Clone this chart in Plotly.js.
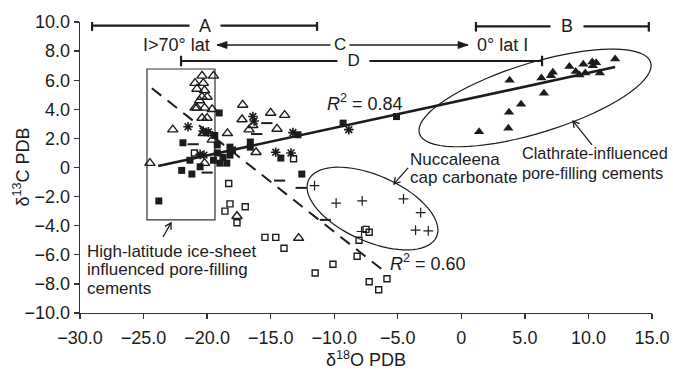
<!DOCTYPE html>
<html>
<head>
<meta charset="utf-8">
<script src="https://cdn.plot.ly/plotly-3.0.1.min.js"></script>
<style>html,body{margin:0;padding:0;background:#fff;}#chart{width:673px;height:372px;}</style>
</head>
<body>
<div id="chart"></div>
<script>
// ---------- DATA ----------
// Open triangles
const openTriX = [-20.4,-19.5,-20.95,-20.3,-20.8,-20.2,-20.4,-20.0,-20.6,-20.95,-20.8,-20.2,-19.6,-20.4,-20.0,-22.7,-20.3,-19.9,-19.6,-18.4,-24.5,-20.2,-17.2,-17.25,-15.0,-13.9,-16.7,-14.5,-16.4,-16.15,-17.65,-12.8];
const openTriY = [6.3,6.3,5.8,5.8,5.4,5.3,4.85,4.85,4.6,4.1,4.1,4.1,4.0,3.4,3.4,2.6,2.35,2.35,1.9,2.35,0.3,0.3,4.3,3.3,3.75,3.6,2.6,2.65,2.9,1.05,-3.35,-4.85];
// Filled squares
const fillSqX = [-19.05,-21.9,-21.35,-22.0,-21.2,-20.55,-19.2,-18.75,-18.2,-18.2,-19.2,-19.5,-19.0,-18.45,-16.6,-16.6,-14.2,-12.85,-12.55,-23.8,-9.3,-5.1,-19.4,-18.0];
const fillSqY = [3.75,1.7,0.5,-0.2,-0.45,0.05,1.55,0.7,1.4,0.85,1.0,0.5,0.3,0.3,1.75,1.4,0.65,2.25,-0.45,-2.3,3.05,3.5,2.2,1.2];
// Asterisks
const asterX = [-21.5,-16.4,-16.3,-20.3,-19.9,-20.55,-20.25,-14.6,-13.4,-13.25,-8.85];
const asterY = [2.8,3.5,3.2,2.5,2.45,0.9,0.85,1.05,1.0,2.4,2.6];
// Dashes
const dashX = [-21.1,-20.0,-15.3,-16.1,-14.3,-12.6,-10.7];
const dashY = [1.6,-0.35,3.05,2.3,-0.9,-1.4,-3.6];
// Open squares
const openSqX = [-21.0,-18.3,-18.2,-18.6,-17.0,-17.65,-15.45,-14.6,-13.95,-11.5,-10.1,-7.5,-7.25,-8.05,-8.2,-7.25,-5.85,-6.5,-13.2];
const openSqY = [1.0,-1.1,-2.5,-3.0,-2.7,-3.8,-4.8,-4.8,-5.55,-7.25,-6.65,-4.25,-4.45,-5.0,-6.1,-7.85,-7.65,-8.4,0.6];
// Plus (Nuccaleena cap carbonate)
const plusX = [-11.55,-9.85,-7.8,-4.55,-3.2,-3.6,-2.6,-7.85];
const plusY = [-1.25,-2.45,-2.3,-2.15,-3.1,-4.3,-4.35,-4.4];
// Filled triangles (clathrate)
const fillTriX = [12.1,8.5,9.6,10.3,10.6,10.35,9.75,10.9,9.3,7.2,7.05,6.3,3.8,6.5,4.7,3.75,3.7,1.4,9.0];
const fillTriY = [7.45,6.95,7.1,7.25,7.2,7.0,6.5,6.5,6.35,6.55,6.3,6.15,6.0,5.1,4.35,3.8,2.7,2.45,6.6];
// Regression lines (end points)
const fitSolidX = [-23.85, 12.1];
const fitSolidY = [0.1, 6.9];
const fitDashX = [-24.35, -6.25];
const fitDashY = [5.45, -7.0];
// Tick labels
const xTickVals = [-30,-25,-20,-15,-10,-5,0,5,10,15];
const xTickText = ["−30.0","−25.0","−20.0","−15.0","−10.0","−5.0","0","5.0","10.0","15.0"];
const yTickVals = [10,8,6,4,2,0,-2,-4,-6,-8,-10];
const yTickText = ["10.0","8.0","6.0","4.0","2.0","0","−2.0","−4.0","−6.0","−8.0","−10.0"];

// ---------- LAYOUT CONSTANTS ----------
const W = 673, H = 372;
const M = {l:80, r:21, t:22, b:59};
const XR = [-30, 15], YR = [-10, 10];
const pxX = (W - M.l - M.r) / (XR[1]-XR[0]);
const pxY = (H - M.t - M.b) / (YR[1]-YR[0]);
const INK = '#1c1c1c';
const FONT = 'Liberation Sans, Arial, Helvetica, sans-serif';

function toPx(x, y) { return [(x - XR[0]) * pxX, (y - YR[0]) * pxY]; }
function toData(px, py) { return [px / pxX + XR[0], py / pxY + YR[0]]; }

function ellipsePath(cx, cy, aPx, bPx, angDeg) {
  const ph = angDeg*Math.PI/180;
  let d = '';
  for (let i=0;i<=72;i++){
    const t = i/72*2*Math.PI;
    const ex = aPx*Math.cos(t), ey = bPx*Math.sin(t);
    const rx = ex*Math.cos(ph) - ey*Math.sin(ph);
    const ry = ex*Math.sin(ph) + ey*Math.cos(ph);
    const x = cx + rx/pxX, y = cy + ry/pxY;
    d += (i===0?'M':'L') + x.toFixed(3) + ',' + y.toFixed(3);
  }
  return d + 'Z';
}

function headPath(hx, hy, tx, ty, L, w, closed) {
  const [hpx, hpy] = toPx(hx, hy), [tpx, tpy] = toPx(tx, ty);
  let dx = hpx - tpx, dy = hpy - tpy;
  const n = Math.hypot(dx, dy); dx /= n; dy /= n;
  const bx = hpx - dx*L, by = hpy - dy*L;
  const p1 = toData(bx - dy*w, by + dx*w), p2 = toData(bx + dy*w, by - dx*w);
  return 'M' + p1.join(',') + 'L' + hx + ',' + hy + 'L' + p2.join(',') + (closed ? 'Z' : '');
}

function arrowShapes(hx, hy, tx, ty, filled) {
  const lw = filled ? 1.6 : 1.3;
  const s = [{type:'line', xref:'x', yref:'y', x0:tx, y0:ty, x1:hx, y1:hy, line:{color:INK, width:lw}}];
  if (filled) {
    s.push({type:'path', xref:'x', yref:'y', path:headPath(hx, hy, tx, ty, 10, 3.5, true), fillcolor:INK, line:{color:INK, width:0.8}});
  } else {
    s.push({type:'path', xref:'x', yref:'y', path:headPath(hx, hy, tx, ty, 6, 3.5, false), line:{color:INK, width:1.3}});
  }
  return s;
}

const mk = (sym, size, lw) => ({symbol:sym, size:size, color:INK, line:{color:INK, width:lw}});

const traces = [
  {x:fitSolidX, y:fitSolidY, mode:'lines', line:{color:INK, width:2.6}, hoverinfo:'skip'},
  {x:fitDashX, y:fitDashY, mode:'lines', line:{color:INK, width:2, dash:'12px,8px'}, hoverinfo:'skip'},
  {x:openSqX, y:openSqY, mode:'markers', marker:mk('square-open',6,1.4)},
  {x:plusX, y:plusY, mode:'markers', marker:mk('cross-thin-open',7,1.2)},
  {x:dashX, y:dashY, mode:'markers', marker:mk('line-ew-open',8,2)},
  {x:openTriX, y:openTriY, mode:'markers', marker:mk('triangle-up-open',9,1.4)},
  {x:fillSqX, y:fillSqY, mode:'markers', marker:mk('square',7,0)},
  {x:asterX, y:asterY, mode:'markers', marker:mk('asterisk-open',8,1.6)},
  {x:fillTriX, y:fillTriY, mode:'markers', marker:mk('triangle-up',9,0)}
];

const capH = 0.36;
function bracket(x0, x1, y) {
  return [
    {type:'line', xref:'x', yref:'y', x0:x0, x1:x1, y0:y, y1:y, line:{color:INK, width:2.2}},
    {type:'line', xref:'x', yref:'y', x0:x0, x1:x0, y0:y-capH, y1:y+capH, line:{color:INK, width:2.2}},
    {type:'line', xref:'x', yref:'y', x0:x1, x1:x1, y0:y-capH, y1:y+capH, line:{color:INK, width:2.2}}
  ];
}

const shapes = [
  {type:'rect', xref:'x', yref:'y', x0:-24.73, x1:-19.38, y0:-3.6, y1:6.77, line:{color:'#333', width:1.2}, layer:'below'},
  {type:'path', xref:'x', yref:'y', path: ellipsePath(-6.99, -2.82, 70, 33, -23.8), line:{color:INK, width:1.2}},
  {type:'path', xref:'x', yref:'y', path: ellipsePath(5.8, 4.78, 121, 35, 17.1), line:{color:INK, width:1.2}},
  ...bracket(-29.05, -11.35, 9.75),
  ...bracket(1.15, 14.75, 9.7),
  ...bracket(-22.05, 6.35, 7.32),
  ...arrowShapes(-19.22, 8.42, -10.3, 8.42, true),
  ...arrowShapes(0.53, 8.42, -8.8, 8.42, true),
  ...arrowShapes(-22.84, -3.81, -23.47, -4.78, false),
  ...arrowShapes(-5.3, -1.13, -4.19, -0.03, false),
  ...arrowShapes(8.79, 3.19, 10.28, 1.55, false)
];

const tf = {family:FONT, size:18, color:INK};
const af = {family:FONT, size:17, color:INK};
const af2 = {family:FONT, size:16.3, color:INK};
const lab = (x, y, text, extra) => Object.assign({x:x, y:y, xref:'x', yref:'y', text:text, showarrow:false, font:tf, bgcolor:'rgba(0,0,0,0)', borderpad:0}, extra||{});
const left = (x, y, text, f) => lab(x, y, text, {xanchor:'left', align:'left', font:f||af});

const annotations = [
  lab(-20.2, 9.75, '  A  ', {bgcolor:'#fff'}),
  lab(8.3, 9.7, '  B  ', {bgcolor:'#fff'}),
  lab(-8.5, 7.32, '  D  ', {bgcolor:'#fff', font:{family:FONT, size:17, color:INK}}),
  lab(-9.55, 8.42, 'C', {font:{family:FONT, size:17, color:INK}}),
  lab(-22.37, 8.42, 'I>70° lat'),
  lab(3.2, 8.42, '0° lat I'),
  lab(-7.6, 4.5, '<i>R</i><sup>2</sup> = 0.84'),
  lab(-2.6, -6.56, '<i>R</i><sup>2</sup> = 0.60'),
  left(-4.11, 0.58, 'Nuccaleena'),
  left(-4.11, -0.72, 'cap carbonate'),
  left(4.7, 1.0, 'Clathrate-influenced', af2),
  left(4.7, -0.38, 'pore-filling cements', af2),
  left(-29.53, -5.74, 'High-latitude ice-sheet'),
  left(-29.53, -7.04, 'influenced pore-filling'),
  left(-29.53, -8.35, 'cements'),
  {xref:'paper', yref:'paper', x:(22 - M.l)/(W - M.l - M.r), y:0.5, xanchor:'center', yanchor:'middle',
   text:'δ<sup>13</sup>C PDB', textangle:-90, showarrow:false, font:tf}
];

const axisCommon = {
  showgrid:false, zeroline:false, showline:true, linecolor:'#333', linewidth:1.3,
  ticks:'outside', ticklen:5, tickwidth:1.3, tickcolor:'#333', tickfont:tf, tickmode:'array'
};

const layout = {
  width:W, height:H, margin:M, paper_bgcolor:'#fff', plot_bgcolor:'#fff', showlegend:false,
  font:{family:FONT, color:INK},
  xaxis: Object.assign({}, axisCommon, {range:XR, tickvals:xTickVals, ticktext:xTickText, ticklabelstandoff:3,
    title:{text:'δ<sup>18</sup>O PDB', font:tf, standoff:2}}),
  yaxis: Object.assign({}, axisCommon, {range:YR, tickvals:yTickVals, ticktext:yTickText}),
  shapes: shapes,
  annotations: annotations
};

Plotly.newPlot('chart', traces, layout, {displayModeBar:false, staticPlot:true});
</script>
</body>
</html>
